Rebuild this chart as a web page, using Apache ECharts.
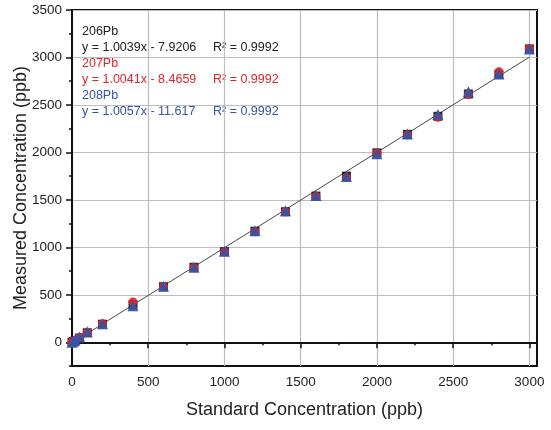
<!DOCTYPE html>
<html>
<head>
<meta charset="utf-8">
<script src="https://cdn.jsdelivr.net/npm/echarts@6/dist/echarts.min.js"></script>
<style>html,body{margin:0;padding:0;background:#fff}#c{width:551px;height:430px}</style>
</head>
<body>
<div id="c"></div>
<script>
var stdConc = [0, 10, 20, 50, 100, 200, 400, 600, 800, 1000, 1200, 1400, 1600, 1800, 2000, 2200, 2400, 2600, 2800, 3000];
var pb206 = [2, 8, 15, 45, 100, 190, 395, 585, 790, 955, 1170, 1375, 1540, 1750, 1995, 2190, 2380, 2615, 2820, 3090];
var pb207 = [5, 12, 20, 50, 105, 195, 425, 585, 785, 955, 1165, 1375, 1535, 1735, 1990, 2185, 2370, 2610, 2850, 3095];
var pb208 = [0, 10, 25, 55, 110, 195, 385, 590, 790, 960, 1175, 1385, 1545, 1745, 1985, 2195, 2400, 2640, 2825, 3090];
var seriesNames = ['206Pb', '207Pb', '208Pb'];
var slopes = ['1.0039', '1.0041', '1.0057'];
var intercepts = ['7.9206', '8.4659', '11.617'];
var r2 = ['0.9992', '0.9992', '0.9992'];
var xTickLabels = [0, 500, 1000, 1500, 2000, 2500, 3000];
var yTickLabels = [0, 500, 1000, 1500, 2000, 2500, 3000, 3500];

var colors = ['#1c1c1c', '#e2232a', '#3953a4'];
var textColors = ['#222222', '#e2232a', '#3953a4'];
var symbols = ['rect', 'circle', 'triangle'];
var sizes = [9, 9, 11];
var font = 'Liberation Sans, Arial, sans-serif';

function pairs(ys) { return stdConc.map(function (x, i) { return [x, ys[i]]; }); }
var allData = [pb206, pb207, pb208];

var fitLine = [0, 3000].map(function (x) {
  return [x, parseFloat(slopes[0]) * x - parseFloat(intercepts[0])];
});

var series = [{
  type: 'line', xAxisIndex: 0, yAxisIndex: 0, data: fitLine, symbol: 'none',
  lineStyle: { color: '#4a4a4a', width: 1 }, z: 3, silent: true
}];
allData.forEach(function (d, i) {
  series.push({
    type: 'scatter', name: seriesNames[i], xAxisIndex: 0, yAxisIndex: 0,
    data: pairs(d), symbol: symbols[i], symbolSize: sizes[i],
    itemStyle: { color: colors[i], opacity: 0.95 }, z: 4 + i
  });
});

var graphics = [];
var lineY = 33;
seriesNames.forEach(function (n, i) {
  graphics.push({ type: 'text', left: 82, top: lineY - 7.5, style: { text: n, fill: textColors[i], font: '12.5px ' + font } });
  lineY += 16;
  graphics.push({ type: 'text', left: 82, top: lineY - 7.5, style: { text: 'y = ' + slopes[i] + 'x - ' + intercepts[i], fill: textColors[i], font: '12.5px ' + font } });
  graphics.push({ type: 'text', left: 213, top: lineY - 7.5, style: { text: 'R\u00b2 = ' + r2[i], fill: textColors[i], font: '12.5px ' + font } });
  lineY += 16;
});

var gridTop = 10, gridBottomPx = 366, gridLeft = 72, gridRightPx = 537;
var pxPerY = (gridBottomPx - gridTop) / 3750;
var zeroY = gridTop + 3500 * pxPerY;
var pxPerX = (gridRightPx - gridLeft) / 3050;
var x3000 = gridLeft + 3000 * pxPerX;

var option = {
  backgroundColor: '#fff',
  animation: false,
  grid: [
    { left: gridLeft, right: 551 - gridRightPx, top: gridTop, bottom: 430 - gridBottomPx, show: true, borderColor: '#111', borderWidth: 2, backgroundColor: 'transparent' },
    { left: gridLeft, right: 551 - x3000, top: gridTop, bottom: 430 - zeroY, show: false }
  ],
  xAxis: [
    {
      type: 'value', gridIndex: 0, min: 0, max: 3050, interval: 250,
      axisLine: { show: true, lineStyle: { color: '#111', width: 2 } },
      axisTick: { show: true, length: 3, lineStyle: { color: '#111', width: 1.5 } },
      axisLabel: { show: false },
      splitLine: { show: true, lineStyle: { color: ['#bdbdbd', 'transparent'], width: 1.2 } },
      name: 'Standard Concentration (ppb)', nameLocation: 'middle', nameGap: 35,
      nameTextStyle: { fontSize: 18, color: '#222', fontFamily: font }
    },
    {
      type: 'value', gridIndex: 1, min: 0, max: 3000, interval: 500, offset: gridBottomPx - zeroY,
      axisLine: { show: false },
      axisTick: { show: true, length: 6, lineStyle: { color: '#111', width: 1.5 } },
      axisLabel: { show: true, fontSize: 13.5, color: '#222', fontFamily: font, margin: 9,
        formatter: function (v) { return xTickLabels.indexOf(v) >= 0 ? String(v) : ''; } },
      splitLine: { show: false }
    }
  ],
  yAxis: [
    {
      type: 'value', gridIndex: 0, min: -250, max: 3500, interval: 250,
      axisLine: { show: true, lineStyle: { color: '#111', width: 2 } },
      axisTick: { show: true, length: 3, lineStyle: { color: '#111', width: 1.5 } },
      axisLabel: { show: false },
      splitLine: { show: true, lineStyle: { color: ['transparent', '#bdbdbd'], width: 1.2 } },
      name: 'Measured Concentration (ppb)', nameLocation: 'middle', nameGap: 42,
      nameTextStyle: { fontSize: 18, color: '#222', fontFamily: font }
    },
    {
      type: 'value', gridIndex: 1, min: 0, max: 3500, interval: 500,
      axisLine: { show: false },
      axisTick: { show: true, length: 6, lineStyle: { color: '#111', width: 1.5 } },
      axisLabel: { show: true, fontSize: 13.5, color: '#222', fontFamily: font, margin: 10,
        formatter: function (v) { return yTickLabels.indexOf(v) >= 0 ? String(v) : ''; } },
      splitLine: { show: false }
    }
  ],
  series: series,
  graphic: graphics
};
var chart = echarts.init(document.getElementById('c'), null, { renderer: 'canvas' });
chart.setOption(option);
</script>
</body>
</html>
